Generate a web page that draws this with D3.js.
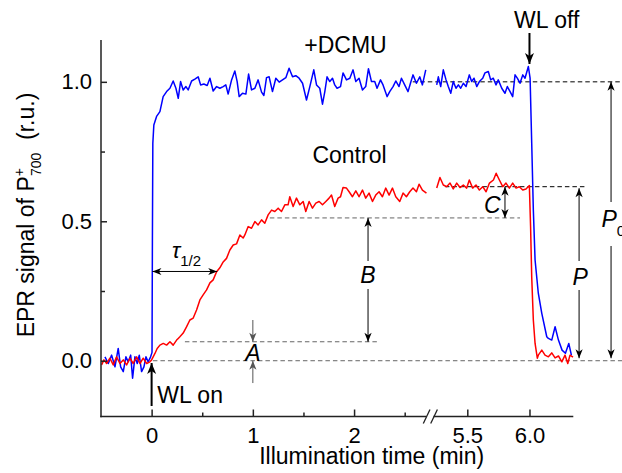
<!DOCTYPE html>
<html>
<head>
<meta charset="utf-8">
<script src="https://cdn.jsdelivr.net/npm/d3@7"></script>
<style>
  body { margin: 0; background: #fff; }
  svg { display: block; font-family: "Liberation Sans", Arial, sans-serif; }
</style>
</head>
<body>
<script>
// Traces: [time (min), EPR signal (r.u.)]
// +DCMU, before the axis break
const dcmuLeft = [
  [-0.461, 0.014], [-0.428, -0.010], [-0.395, 0.020], [-0.362, -0.022], [-0.330, 0.044],
  [-0.306, -0.022], [-0.280, -0.039], [-0.254, 0.014], [-0.231, -0.004], [-0.207, 0.020],
  [-0.188, -0.063], [-0.165, 0.014], [-0.142, -0.010], [-0.122, 0.020], [-0.099, -0.039],
  [-0.076, -0.022], [-0.056, 0.014], [-0.034, -0.004], [-0.010, 0.014], [0.004, 0.030],
  [0.008, 0.450], [0.012, 0.780], [0.022, 0.845], [0.049, 0.876], [0.082, 0.893],
  [0.114, 0.947], [0.148, 0.965], [0.181, 0.977], [0.213, 1.003], [0.240, 0.977],
  [0.263, 0.941], [0.286, 1.001], [0.312, 0.971], [0.339, 0.983], [0.361, 0.971],
  [0.395, 1.003], [0.427, 1.010], [0.460, 1.018], [0.484, 0.989], [0.516, 0.992],
  [0.549, 0.987], [0.576, 1.013], [0.608, 0.967], [0.642, 0.983], [0.674, 0.977],
  [0.707, 0.983], [0.733, 0.989], [0.756, 0.956], [0.790, 1.007], [0.822, 1.039],
  [0.845, 1.001], [0.865, 0.947], [0.898, 0.959], [0.931, 0.956], [0.958, 1.028],
  [0.987, 0.971], [1.020, 0.977], [1.052, 1.007], [1.086, 0.963], [1.109, 0.951],
  [1.135, 1.015], [1.161, 1.018], [1.194, 0.965], [1.227, 1.013], [1.260, 0.999],
  [1.293, 1.007], [1.326, 1.015], [1.358, 1.049], [1.392, 1.018], [1.424, 1.022],
  [1.457, 1.013], [1.491, 0.995], [1.530, 0.935], [1.563, 0.983], [1.602, 1.043],
  [1.629, 0.989], [1.661, 0.977], [1.688, 0.920], [1.711, 0.965], [1.733, 1.018],
  [1.760, 1.001], [1.787, 1.013], [1.809, 0.989], [1.832, 0.977], [1.866, 0.983],
  [1.891, 1.032], [1.925, 1.007], [1.958, 1.013], [1.990, 1.043], [2.017, 1.001],
  [2.049, 1.013], [2.083, 0.971], [2.115, 0.983], [2.142, 1.047], [2.172, 1.001],
  [2.204, 1.001], [2.227, 0.977], [2.261, 1.007], [2.286, 0.989], [2.326, 0.947],
  [2.352, 0.965], [2.385, 0.983], [2.412, 1.003], [2.444, 0.983], [2.468, 1.013],
  [2.500, 0.989], [2.533, 0.965], [2.557, 0.995], [2.582, 1.025], [2.616, 0.995],
  [2.649, 1.018], [2.675, 0.989], [2.708, 1.043]
];

// +DCMU, after the axis break
const dcmuRight = [
  [5.254, 0.989], [5.267, 1.018], [5.286, 0.983], [5.307, 1.043], [5.329, 1.007],
  [5.347, 0.983], [5.367, 0.959], [5.387, 1.001], [5.409, 0.977], [5.428, 0.989],
  [5.447, 0.977], [5.468, 0.995], [5.490, 0.983], [5.516, 1.025], [5.535, 1.001],
  [5.554, 1.013], [5.576, 0.983], [5.597, 1.001], [5.624, 1.013], [5.642, 1.032],
  [5.669, 1.037], [5.688, 1.007], [5.709, 1.013], [5.731, 0.989], [5.749, 1.007],
  [5.777, 0.977], [5.803, 0.959], [5.822, 0.983], [5.844, 0.965], [5.865, 0.947],
  [5.884, 1.025], [5.902, 1.013], [5.924, 0.995], [5.946, 1.025], [5.964, 1.013],
  [5.991, 1.055], [6.005, 1.013], [6.018, 0.780], [6.031, 0.541], [6.045, 0.361],
  [6.071, 0.242], [6.099, 0.170], [6.139, 0.086], [6.152, 0.080], [6.179, 0.074],
  [6.206, 0.122], [6.233, 0.074], [6.262, 0.038], [6.289, 0.027], [6.316, 0.062],
  [6.337, 0.020]
];

// Control, before the axis break
const controlLeft = [
  [-0.494, -0.015], [-0.471, 0.003], [-0.444, -0.010], [-0.412, 0.009], [-0.379, -0.015],
  [-0.346, 0.014], [-0.313, -0.010], [-0.280, 0.003], [-0.247, -0.015], [-0.214, 0.009],
  [-0.182, -0.010], [-0.148, 0.014], [-0.115, -0.010], [-0.083, 0.009], [-0.049, -0.010],
  [-0.017, -0.004], [0.000, 0.003], [0.033, 0.026], [0.055, 0.044], [0.082, 0.056],
  [0.115, 0.062], [0.148, 0.056], [0.181, 0.068], [0.213, 0.056], [0.247, 0.074],
  [0.263, 0.080], [0.279, 0.086], [0.312, 0.099], [0.346, 0.122], [0.378, 0.146],
  [0.411, 0.153], [0.444, 0.182], [0.477, 0.218], [0.509, 0.236], [0.543, 0.254],
  [0.576, 0.279], [0.608, 0.290], [0.642, 0.319], [0.674, 0.333], [0.707, 0.354],
  [0.740, 0.367], [0.773, 0.397], [0.806, 0.415], [0.839, 0.419], [0.872, 0.451],
  [0.904, 0.440], [0.921, 0.451], [0.954, 0.481], [0.987, 0.475], [1.020, 0.499],
  [1.052, 0.487], [1.086, 0.505], [1.118, 0.493], [1.151, 0.523], [1.185, 0.540],
  [1.217, 0.535], [1.250, 0.547], [1.283, 0.535], [1.316, 0.559], [1.348, 0.559],
  [1.365, 0.588], [1.398, 0.553], [1.431, 0.583], [1.464, 0.559], [1.497, 0.571],
  [1.523, 0.535], [1.556, 0.571], [1.589, 0.547], [1.622, 0.565], [1.655, 0.571],
  [1.688, 0.559], [1.721, 0.571], [1.753, 0.583], [1.777, 0.594], [1.809, 0.553],
  [1.842, 0.583], [1.866, 0.588], [1.891, 0.621], [1.925, 0.619], [1.951, 0.606],
  [1.984, 0.588], [2.017, 0.609], [2.049, 0.588], [2.083, 0.612], [2.115, 0.583],
  [2.148, 0.601], [2.182, 0.571], [2.214, 0.594], [2.247, 0.606], [2.280, 0.588],
  [2.313, 0.619], [2.346, 0.594], [2.379, 0.619], [2.412, 0.588], [2.451, 0.571],
  [2.484, 0.601], [2.517, 0.588], [2.550, 0.606], [2.582, 0.619], [2.616, 0.606],
  [2.642, 0.633], [2.675, 0.612], [2.715, 0.601]
];

// Control, after the axis break
const controlRight = [
  [5.254, 0.619], [5.280, 0.657], [5.307, 0.630], [5.334, 0.624], [5.361, 0.637],
  [5.387, 0.616], [5.415, 0.637], [5.441, 0.621], [5.468, 0.630], [5.495, 0.619],
  [5.516, 0.648], [5.543, 0.619], [5.570, 0.630], [5.597, 0.612], [5.624, 0.624],
  [5.651, 0.606], [5.678, 0.637], [5.710, 0.648], [5.732, 0.672], [5.758, 0.648],
  [5.785, 0.624], [5.811, 0.637], [5.838, 0.619], [5.865, 0.637], [5.892, 0.619],
  [5.918, 0.624], [5.946, 0.612], [5.972, 0.616], [5.999, 0.628], [6.009, 0.480],
  [6.018, 0.300], [6.031, 0.146], [6.045, 0.062], [6.063, 0.009], [6.071, 0.020],
  [6.099, 0.038], [6.125, 0.020], [6.152, 0.014], [6.179, 0.028], [6.206, 0.010],
  [6.233, 0.017], [6.260, -0.004], [6.286, 0.020], [6.308, -0.010], [6.326, 0.020],
  [6.350, 0.013]
];

const xTicksLeft = [0, 1, 2];
const xMinorLeft = [0.5, 1.5, 2.5];
const xTicksRight = [5.5, 6.0];
const xTickLabels = ['0', '1', '2', '5.5', '6.0'];
const yTicks = [0, 0.5, 1.0];
const yMinor = [0.25, 0.75];

const w = 622, h = 473;
const svg = d3.select('body').append('svg').attr('width', w).attr('height', h);

// broken time axis: two linear pieces
const xLeft = d3.scaleLinear().domain([-0.5, 2.75]).range([101, 430]);
const xRight = d3.scaleLinear().domain([5.2, 6.35]).range([430, 573]);
const x = t => (t < 4 ? xLeft(t) : xRight(t));
const y = d3.scaleLinear().domain([-0.2, 1.15]).range([416.5, 40]);
const yBase = y(-0.2);

// arrow heads
const defs = svg.append('defs');
function addMarker(id, len, half, notch, color) {
  defs.append('marker')
    .attr('id', id)
    .attr('viewBox', `${-len - 1} ${-half - 1} ${len + 2} ${2 * half + 2}`)
    .attr('markerUnits', 'userSpaceOnUse')
    .attr('markerWidth', len + 2)
    .attr('markerHeight', 2 * half + 2)
    .attr('refX', 0).attr('refY', 0)
    .attr('orient', 'auto-start-reverse')
    .append('path')
    .attr('d', `M0,0L${-len},${-half}L${-len + notch},0L${-len},${half}Z`)
    .attr('fill', color);
}
addMarker('head', 9, 3.6, 2.5, '#000');
addMarker('headGray', 9, 3.6, 2.5, '#555');
addMarker('headBig', 11, 4.5, 3, '#000');

function line(x1, y1, x2, y2, o = {}) {
  const l = svg.append('line')
    .attr('x1', x1).attr('y1', y1).attr('x2', x2).attr('y2', y2)
    .attr('stroke', o.color || '#000')
    .attr('stroke-width', o.width || 1);
  if (o.dash) l.attr('stroke-dasharray', o.dash);
  if (o.end) l.attr('marker-end', `url(#${o.end})`);
  if (o.start) l.attr('marker-start', `url(#${o.start})`);
  return l;
}

// dashed guide lines
const guides = [
  { v: 1.0, t1: 2.58, t2: 6.8, color: '#000' },
  { v: 0.624, t1: 5.32, t2: 6.455, color: '#000' },
  { v: 0.512, t1: 1.168, t2: 5.924, color: '#666' },
  { v: 0.068, t1: 0.329, t2: 2.225, color: '#666' },
  { v: 0.0, t1: 0.013, t2: 6.8, color: '#666' }
];
guides.forEach(g => line(x(g.t1), y(g.v), x(g.t2), y(g.v), { color: g.color, dash: '4.5,3' }));

// traces
const path = d3.line().x(d => x(d[0])).y(d => y(d[1]));
[[dcmuLeft, '#0000ff'], [dcmuRight, '#0000ff'], [controlLeft, '#ff0000'], [controlRight, '#ff0000']]
  .forEach(([data, color]) => {
    svg.append('path')
      .datum(data)
      .attr('d', path)
      .attr('fill', 'none')
      .attr('stroke', color)
      .attr('stroke-width', 1.5)
      .attr('stroke-linejoin', 'round');
  });

// axes
const axisColor = '#222';
line(101, 40, 101, yBase + 0.75, { color: axisColor, width: 1.5 });
line(100.25, yBase, 426.5, yBase, { color: axisColor, width: 1.5 });
line(433.5, yBase, 573.3, yBase, { color: axisColor, width: 1.5 });
line(423.3, 423.5, 430, 409.5, { color: axisColor, width: 1.3 });
line(430.7, 423.5, 437.4, 409.5, { color: axisColor, width: 1.3 });

function styleAxis(g) {
  g.select('.domain').remove();
  g.selectAll('line').attr('stroke', axisColor).attr('stroke-width', 1.5);
  g.selectAll('text').attr('fill', '#000').attr('font-size', 22).attr('font-family', null);
}

svg.append('g')
  .attr('transform', `translate(0,${yBase})`)
  .call(d3.axisBottom(xLeft).tickValues(xTicksLeft).tickSizeInner(-7).tickSizeOuter(0)
    .tickPadding(11).tickFormat((d, i) => xTickLabels[i]))
  .call(styleAxis);
svg.append('g')
  .attr('transform', `translate(0,${yBase})`)
  .call(d3.axisBottom(xRight).tickValues(xTicksRight).tickSizeInner(-7).tickSizeOuter(0)
    .tickPadding(11).tickFormat((d, i) => xTickLabels[i + xTicksLeft.length]))
  .call(styleAxis);
svg.append('g')
  .attr('transform', `translate(0,${yBase})`)
  .call(d3.axisBottom(xLeft).tickValues(xMinorLeft).tickSizeInner(-4).tickSizeOuter(0).tickFormat(''))
  .call(styleAxis);

svg.append('g')
  .attr('transform', 'translate(101,0)')
  .call(d3.axisLeft(y).tickValues(yTicks).tickSizeInner(-6).tickSizeOuter(0)
    .tickPadding(9).tickFormat(d3.format('.1f')))
  .call(styleAxis);
svg.append('g')
  .attr('transform', 'translate(101,0)')
  .call(d3.axisLeft(y).tickValues(yMinor).tickSizeInner(-4).tickSizeOuter(0).tickFormat(''))
  .call(styleAxis);

// axis titles
svg.append('text')
  .attr('x', 371.7).attr('y', 464)
  .attr('text-anchor', 'middle')
  .attr('font-size', 23)
  .text('Illumination time (min)');

const yLab = svg.append('text')
  .attr('transform', 'translate(33.5,215) rotate(-90)')
  .attr('text-anchor', 'middle')
  .attr('font-size', 23)
  .style('white-space', 'pre');
yLab.append('tspan').text('EPR signal of P');
yLab.append('tspan').attr('font-size', 14).attr('dy', -10).text('+');
yLab.append('tspan').attr('font-size', 14).attr('dx', -8).attr('dy', 17).text('700');
yLab.append('tspan').attr('dy', -7).text('  (r.u.)');

// labels
function label(txt, xp, yp, o = {}) {
  return svg.append('text')
    .attr('x', xp).attr('y', yp)
    .attr('text-anchor', o.anchor || 'middle')
    .attr('font-size', o.size || 23)
    .attr('font-style', o.italic ? 'italic' : null)
    .text(txt);
}
label('+DCMU', 345.5, 52.7);
label('Control', 349.5, 163.3);
label('WL off', 546.7, 28.3);
label('WL on', 157.3, 403, { anchor: 'start' });

// WL arrows
line(x(6.0), 33, x(6.0), 64, { width: 2, end: 'headBig' });
line(x(0), 406, x(0), 363, { width: 2, end: 'headBig' });

// tau 1/2
line(x(0.008), y(0.32), x(0.648), y(0.32), { start: 'head', end: 'head' });
const tau = svg.append('text').attr('x', 172).attr('y', 258).attr('font-size', 22);
tau.append('tspan').attr('font-style', 'italic').text('τ');
tau.append('tspan').attr('font-size', 15).attr('dy', 8).text('1/2');

// A
line(x(1.0), y(0.146), x(1.0), y(0.068), { color: '#555', end: 'headGray' });
line(x(1.0), y(-0.08), x(1.0), y(0.0), { color: '#555', end: 'headGray' });
label('A', x(1.0), 360.5, { italic: true });

// B
line(x(2.138), y(0.512), x(2.138), 261, { start: 'head' });
line(x(2.138), 289, x(2.138), y(0.068), { end: 'head' });
label('B', x(2.138), 283.3, { italic: true });

// C
line(x(5.803), y(0.624), x(5.803), y(0.512), { start: 'head', end: 'head' });
label('C', 500.5, 213.3, { italic: true, anchor: 'end' });

// P
line(x(6.399), y(0.624) + 1.5, x(6.399), 261, { start: 'head' });
line(x(6.399), 290, x(6.399), y(0.0) - 2.5, { end: 'head' });
label('P', x(6.399) + 1, 285, { italic: true });

// P0
line(x(6.656), y(1.0), x(6.656), 202, { start: 'head' });
line(x(6.656), 246, x(6.656), y(0.0) - 2.5, { end: 'head' });
const p0 = svg.append('text').attr('x', 601.5).attr('y', 226.7).attr('font-size', 23);
p0.append('tspan').attr('font-style', 'italic').text('P');
p0.append('tspan').attr('font-size', 15).attr('dy', 9).text('0');
</script>
</body>
</html>
